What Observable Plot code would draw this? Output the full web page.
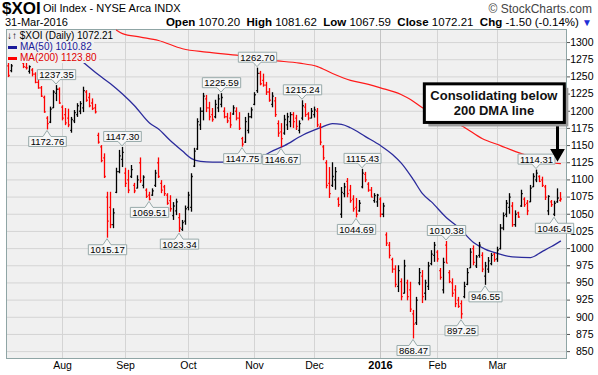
<!DOCTYPE html>
<html><head><meta charset="utf-8">
<script src="https://cdn.jsdelivr.net/npm/d3@7"></script>
<script src="https://cdn.jsdelivr.net/npm/@observablehq/plot@0.6"></script>
<style>
body{margin:0;background:#fff;font-family:"Liberation Sans",Arial,sans-serif;}
#wrap{position:relative;width:598px;height:375px;overflow:hidden}
#hdr{position:relative;height:29px;width:598px}
#hdr span.a{position:absolute;white-space:nowrap}
#chart{position:relative}
#legend{position:absolute;left:7px;top:1px;font-family:"Liberation Sans",Arial,sans-serif;font-size:10px;line-height:11px}
#legend div{background:#f0f0f0;display:table;padding-right:2px}
</style></head><body>
<div id="wrap">
<div id="hdr">
 <span class="a" style="left:2px;top:-1px;font-size:17px;font-weight:bold">$XOI</span>
 <span class="a" style="left:43px;top:2px;font-size:11px">Oil Index - NYSE Arca INDX</span>
 <span class="a" style="right:6px;top:2px;font-size:12px;color:#444">© StockCharts.com</span>
 <span class="a" id="dt" style="left:5px;top:16px;font-size:11px"></span>
 <span class="a" id="ohlc" style="right:6px;top:16px;font-size:11.5px"></span>
</div>
<div id="chart"></div>
</div>
<script>
// ---------------- DATA ----------------
const lastDate = "31-Mar-2016";
const open = [1266,1259,1278,1288,1284,1270,1264,1258,1260,1254,1242,1234,1220,1190,1184,1205,1226,1232,1206,1195,
1190,1172,1186,1195,1200,1205,1228,1220,1212,1205,1165,1148,1132,1075,1060,1035,1082,1112,1130,1110,
1100,1105,1092,1088,1125,1092,1085,1078,1078,1092,1125,1095,1090,1078,1070,1048,1055,1045,1028,1040,
1060,1060,1120,1145,1180,1200,1218,1205,1195,1192,1205,1210,1200,1192,1190,1196,1200,1190,1160,1155,
1172,1192,1210,1230,1255,1245,1238,1228,1210,1215,1182,1170,1168,1180,1185,1195,1190,1172,1190,1206,
1196,1190,1195,1200,1178,1148,1125,1095,1092,1100,1072,1050,1080,1098,1085,1072,1060,1055,1090,1108,
1094,1085,1070,1068,1072,1050,1020,1005,984,970,945,952,935,950,940,905,892,950,960,935,
945,978,990,995,968,940,1005,965,950,940,925,920,930,948,972,1000,975,990,990,960,
970,978,992,985,1000,1030,1050,1060,1062,1035,1052,1062,1072,1066,1068,1090,1100,1105,1100,1090,
1055,1068,1050,1068,1070.20];
const high = [1271,1268,1290,1296,1288,1272,1270,1266,1262,1256,1246,1236,1222,1192,1206,1230,1237.35,1234,1208,1204,
1203,1191,1201,1211,1214,1235,1230,1226,1218,1210,1168,1150,1138,1082,1082,1058,1117,1143,1147.30,1117,
1114,1121,1095,1106,1132,1106,1087,1082,1087,1114,1132,1099,1092,1080,1077,1067,1072,1051,1041,1062,
1082,1109,1146,1189,1205,1226,1223,1213,1204,1216,1224,1225.59,1205,1197,1198,1208,1205,1198,1162,1191,
1197,1205,1227,1262.70,1258,1254,1242,1233,1227,1220,1186,1182,1194,1197,1198,1198,1194,1186,1215.24,1211,
1198,1204,1206,1204,1182,1150,1128,1118,1125,1118,1074,1089,1095,1102,1092,1077,1073,1070,1115.43,1111,
1096,1089,1080,1079,1074,1066,1023,1009,986,975,975,956,983,954,951,910,929,971,968,954,
980,997,1009,997,971,986,1010.38,968,956,946,929,924,951,971,1000,1004,990,1009,994,980,
987,993,993,1002,1035,1052,1070,1080,1067,1055,1053,1085,1074,1070,1092,1109,1114.31,1106,1104,1092,
1077,1070,1069,1087,1081.62];
const low = [1249,1256,1276,1280,1274,1262,1260,1254,1250,1240,1232,1220,1197,1172.76,1182,1204,1214,1210,1186,1179,
1176,1168,1182,1191,1195,1198,1213,1205,1201,1196,1152,1125,1102,1015.17,1029,1029,1080,1109,1118,1089,
1080,1102,1080,1087,1095,1087,1073,1069.51,1076,1089,1102,1080,1076,1063,1053,1041,1048,1023.34,1025,1034,
1055,1053,1118,1143,1172,1186,1198,1186,1184,1189,1198,1205,1189,1182,1175,1194,1186,1172,1147.75,1153,
1167,1189,1208,1226,1237,1235,1223,1213,1205,1191,1162,1146.67,1165,1172,1176,1175,1172,1167,1186,1191,
1186,1189,1190,1176,1150,1128,1087,1073,1089,1085,1060,1044,1074,1074,1066,1053,1044.69,1053,1087,1096,
1082,1074,1066,1060,1045,1045,1003,985,964,943,936,924,934,924,907,868.47,888,946,920,924,
939,975,980,980,954,934,978,949,929,914,913,897.25,927,946,971,975,971,986,965,946.55,
964,975,980,980,998,1026,1045,1050,1031,1031,1044,1060,1060,1048,1067,1089,1096,1096,1089,1070,
1048,1060,1046.45,1066,1067.59];
const close = [1252,1266,1288,1284,1276,1265,1263,1265,1254,1242,1234,1222,1199,1182,1203,1228,1232,1212,1190,1183,
1180,1188,1198,1208,1211,1230,1216,1208,1204,1199,1155,1128,1105,1040,1035,1052,1112,1135,1140,1095,
1085,1115,1084,1100,1099,1104,1076,1072,1084,1110,1105,1085,1080,1066,1058,1062,1068,1030,1038,1058,
1078,1105,1142,1185,1200,1222,1205,1192,1188,1210,1218,1220,1192,1186,1180,1205,1190,1175,1152,1185,
1192,1202,1224,1255,1240,1238,1228,1216,1222,1195,1168,1160,1188,1192,1195,1185,1178,1182,1208,1195,
1190,1200,1202,1180,1155,1132,1092,1080,1105,1112,1064,1082,1090,1080,1070,1058,1050,1066,1110,1100,
1085,1075,1077,1078,1050,1062,1008,990,970,948,968,930,975,930,912,890,925,965,930,950,
975,992,1005,985,958,980,979,952,935,920,916,905,945,965,995,980,988,1005,970,975,
982,990,984,998,1030,1048,1066,1075,1035,1050,1046,1080,1064,1055,1088,1105,1110,1098,1092,1075,
1076,1064,1066,1073.71,1072.21];

const ma50Idx = [20,25,30,34,38,42,47,50,54,58,61,64,68,72,76,81,84,87,92,98,104,108,111,114,119,124,128,131,135,138,141,146,150,155,159,163,168,174,178,181,184];
const ma50Val = [1290,1271,1253,1240,1225,1208,1183,1174,1157,1142,1131,1127,1126,1126,1125,1125,1132,1140,1150,1165,1176,1182,1181,1176,1163,1150,1137,1124,1100,1080,1068,1045,1031,1009,999,993,988,987,996,1003,1010.82];
const ma200Idx = [36,38,44,50,58,66,77,88,97,103,108,114,120,124,131,134,138,145,151,158,164,168,173,177,181,184];
const ma200Val = [1318,1313,1308,1303,1291,1286,1281,1274,1270,1265,1255,1245,1239,1234,1224,1217,1205,1190,1179,1160,1150,1143,1135,1128,1125,1123.80];

const monthIdx = [18,39,60,82,102,143,163];
const monthLabels = ["Aug","Sep","Oct","Nov","Dec","Feb","Mar"];
const yearIdx = [124];
const yearLabels = ["2016"];
const yTicks = d3.range(850, 1301, 25);

const hiLabelIdx = [16,38,71,83,98,118,146,176];
const loLabelIdx = [13,33,47,57,78,91,116,135,151,159,182];

const noteText = "Consolidating below\n200 DMA line";

// ---------------- BUILD ----------------
const N = close.length;
const bars = d3.range(N).map(i => ({i, o: open[i], h: high[i], l: low[i], c: close[i],
  up: i === 0 ? close[i] >= open[i] : close[i] >= close[i-1]}));
const upBars = bars.filter(d => d.up), dnBars = bars.filter(d => !d.up);
const ma50 = ma50Idx.map((i, k) => ({i, v: ma50Val[k]}));
const ma200 = ma200Idx.map((i, k) => ({i, v: ma200Val[k]}));
const hiLabs = hiLabelIdx.map(i => ({i, v: high[i], t: high[i].toFixed(2)}));
const loLabs = loLabelIdx.map(i => ({i, v: low[i], t: low[i].toFixed(2)}));
const f2 = v => v.toFixed(2);
const chg = close[N-1] - close[N-2];

document.getElementById("dt").textContent = lastDate;
document.getElementById("ohlc").innerHTML =
  `<b>Open</b> ${f2(open[N-1])} &nbsp;<b>High</b> ${f2(high[N-1])} &nbsp;<b>Low</b> ${f2(low[N-1])} &nbsp;<b>Close</b> ${f2(close[N-1])} &nbsp;<b>Chg</b> ${f2(chg)} (${f2(chg/close[N-2]*100)}%) <span style="color:#1f2fd6;font-size:10px">▼</span>`;

const BAR = 1.3, TICKW = 0.42;
const ohlcMarks = (data, col) => [
  Plot.ruleX(data, {x: "i", y1: "l", y2: "h", stroke: col, strokeWidth: BAR}),
  Plot.link(data, {x1: d => d.i - TICKW, x2: "i", y1: "o", y2: "o", stroke: col, strokeWidth: BAR}),
  Plot.link(data, {x1: "i", x2: d => d.i + TICKW, y1: "c", y2: "c", stroke: col, strokeWidth: BAR})
];

const noteX = 161.8, noteY = 1212.5;
const chart = Plot.plot({
  width: 598, height: 346,
  marginTop: 0, marginBottom: 17, marginLeft: 6, marginRight: 32,
  style: {background: "transparent", fontFamily: "Liberation Sans, Arial, sans-serif", fontSize: "10px", overflow: "visible"},
  x: {domain: [-0.667, 186]},
  y: {domain: [840, 1319]},
  marks: [
    Plot.frame({fill: "#f0f0f0", stroke: null}),
    Plot.gridY(yTicks, {stroke: "#d4d4d4", strokeOpacity: 1}),
    Plot.gridX(monthIdx, {stroke: "#d4d4d4", strokeOpacity: 1}),
    Plot.gridX(yearIdx, {stroke: "#c4c4c4", strokeOpacity: 1}),
    Plot.frame({stroke: "#8fa5a5"}),
    Plot.axisY(yTicks, {anchor: "right", label: null, tickSize: 3, tickPadding: 24, textAnchor: "end", fontSize: 10.5, stroke: "#555", fill: "#000", tickFormat: d3.format("d")}),
    Plot.axisX(monthIdx, {anchor: "bottom", label: null, tickSize: 0, tickPadding: 3, fontSize: 10.5, tickFormat: i => monthLabels[monthIdx.indexOf(i)]}),
    Plot.axisX(yearIdx, {anchor: "bottom", label: null, tickSize: 0, tickPadding: 3, fontSize: 11, fontWeight: "bold", tickFormat: i => yearLabels[yearIdx.indexOf(i)]}),
    Plot.line(ma200, {x: "i", y: "v", stroke: "#ff1a1a", strokeWidth: 1.2, curve: "monotone-x", clip: true}),
    Plot.line(ma50, {x: "i", y: "v", stroke: "#2b2b9c", strokeWidth: 1.3, curve: "monotone-x", clip: true}),
    ...ohlcMarks(upBars, "#000"),
    ...ohlcMarks(dnBars, "#ff0000"),
    Plot.text(hiLabs, {x: "i", y: "v", text: "t", dy: -10.5, lineAnchor: "middle", fontSize: 9.5, fill: "#000"}),
    Plot.text(loLabs, {x: "i", y: "v", text: "t", dy: 12, lineAnchor: "middle", fontSize: 9.5, fill: "#000"}),
    Plot.link([0], {x1: 183, x2: 183, y1: 1181, y2: 1143, stroke: "#000", strokeWidth: 3}),
    Plot.dot([0], {x: 183, y: 1139, symbol: "triangle", rotate: 180, r: 4.5, fill: "#000", stroke: "#000"}),
    Plot.text([noteText], {x: noteX, y: noteY, text: d => d, fontSize: 13, fontWeight: "bold", lineHeight: 1.2, fill: "#111"})
  ]
});
const host = document.getElementById("chart");
host.append(chart);

// legend (over the plot, top-left)
const leg = document.createElement("div");
leg.id = "legend";
leg.innerHTML = `<div style="color:#000">↓↑ $XOI (Daily) ${f2(close[N-1])}</div>
<div style="color:#1a1a9a"><span style="display:inline-block;width:9px;height:3px;background:#1a1a9a;vertical-align:middle;margin:0 3px 0 1px"></span>MA(50) ${f2(ma50Val[ma50Val.length-1])}</div>
<div style="color:#e00000"><span style="display:inline-block;width:9px;height:3px;background:#ff0000;vertical-align:middle;margin:0 3px 0 1px"></span>MA(200) ${f2(ma200Val[ma200Val.length-1])}</div>`;
host.append(leg);

// helpers: bbox of a text in the svg's user space
const SVGNS = "http://www.w3.org/2000/svg";
function rootBox(el) {
  const b = el.getBBox(), m = el.getCTM();
  const pts = [[b.x, b.y], [b.x + b.width, b.y], [b.x, b.y + b.height], [b.x + b.width, b.y + b.height]]
    .map(([x, y]) => [m.a * x + m.c * y + m.e, m.b * x + m.d * y + m.f]);
  const X = pts.map(p => p[0]), Y = pts.map(p => p[1]);
  return {x0: Math.min(...X), x1: Math.max(...X), y0: Math.min(...Y), y1: Math.max(...Y)};
}
function topG(el) { let g = el; while (g.parentNode !== chart) g = g.parentNode; return g; }

// label boxes with pointers
const xs = chart.scale("x"), ys = chart.scale("y");
const hiSet = new Map(hiLabs.map(d => [d.t, d])), loSet = new Map(loLabs.map(d => [d.t, d]));
const texts = Array.from(chart.querySelectorAll("text"));
texts.forEach(el => {
  const t = el.textContent;
  const isHi = hiSet.has(t), isLo = loSet.has(t);
  if (!isHi && !isLo) return;
  const d = isHi ? hiSet.get(t) : loSet.get(t);
  const b = rootBox(el);
  const x0 = b.x0 - 2, x1 = b.x1 + 2, y0 = b.y0 + 0.5, y1 = b.y1 - 0.5;
  const cx = xs.apply(d.i), py = ys.apply(d.v);
  const p = isHi
    ? `M${x0},${y0}H${x1}V${y1}H${cx+4}L${cx},${py-1}L${cx-4},${y1}H${x0}Z`
    : `M${x0},${y0}H${cx-4}L${cx},${py+1}L${cx+4},${y0}H${x1}V${y1}H${x0}Z`;
  const path = document.createElementNS(SVGNS, "path");
  path.setAttribute("d", p);
  path.setAttribute("fill", "#f7f7f7");
  path.setAttribute("stroke", "#98aaaa");
  path.setAttribute("stroke-width", "1");
  chart.insertBefore(path, topG(el));
});
// note box
texts.forEach(el => {
  if (!el.textContent.startsWith("Consolidating")) return;
  const b = rootBox(el);
  const x0 = b.x0 - 6, y0 = b.y0 - 4, w = b.x1 - b.x0 + 12, h = b.y1 - b.y0 + 8;
  const g = topG(el);
  const sh = document.createElementNS(SVGNS, "rect");
  sh.setAttribute("x", x0 + 4); sh.setAttribute("y", y0 + 4); sh.setAttribute("width", w); sh.setAttribute("height", h);
  sh.setAttribute("fill", "#9a9a9a");
  const r = document.createElementNS(SVGNS, "rect");
  r.setAttribute("x", x0); r.setAttribute("y", y0); r.setAttribute("width", w); r.setAttribute("height", h);
  r.setAttribute("fill", "#fff"); r.setAttribute("stroke", "#000"); r.setAttribute("stroke-width", "3");
  chart.insertBefore(sh, g); chart.insertBefore(r, g);
});
</script>
</body></html>
